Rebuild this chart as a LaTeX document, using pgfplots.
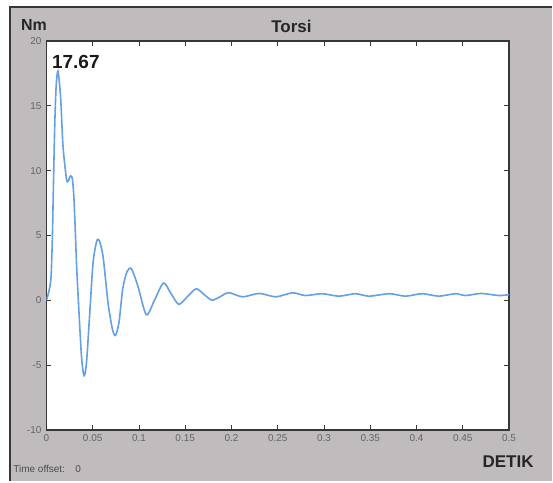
\documentclass[border=0pt]{standalone}
\usepackage{fontspec}
\setmainfont{Liberation Sans}
\usepackage{pgfplots}
\pgfplotsset{compat=1.18}
\definecolor{panelgrey}{RGB}{192,188,190}
\definecolor{framedark}{RGB}{55,55,55}
\definecolor{torsiblue}{RGB}{100,160,228}
\definecolor{ticktext}{RGB}{100,100,100}

\pgfplotstableread{
t      nm
0.0000  0.0
0.0030  0.8
0.0050  1.8
0.0065  5.0
0.0075  8.6
0.0090 13.5
0.0105 16.5
0.0125 17.67
0.0153 15.7
0.0175 12.4
0.0189 11.1
0.0218  9.3
0.0235  9.2
0.0261  9.6
0.0282  9.3
0.0300  7.5
0.0325  2.9
0.0343  0.3
0.0379 -4.3
0.0407 -5.8
0.0433 -4.8
0.0469 -0.9
0.0504  2.9
0.0541  4.5
0.0569  4.65
0.0612  3.4
0.0666 -0.2
0.0713 -2.2
0.0746 -2.7
0.0784 -1.7
0.0825  0.9
0.0870  2.2
0.0918  2.45
0.0989  1.1
0.1080 -1.1
0.1173  0.1
0.1266  1.35
0.1349  0.5
0.1431 -0.3
0.1525  0.3
0.1619  0.9
0.1705  0.45
0.1791  0.02
0.1880  0.3
0.1970  0.6
0.2120  0.28
0.2300  0.54
0.2480  0.28
0.2660  0.59
0.2800  0.38
0.2980  0.52
0.3160  0.33
0.3340  0.52
0.3486  0.33
0.3707  0.52
0.3880  0.33
0.4060  0.52
0.4240  0.33
0.4420  0.52
0.4530  0.38
0.4700  0.54
0.4890  0.38
0.5000  0.45
}\torsidata

\begin{document}
\begin{tikzpicture}[x=0.5pt,y=0.5pt]
% page and grey panel
\fill[white] (0,0) rectangle (553,482);
\fill[panelgrey] (10,0) rectangle (553,475);
\draw[framedark, line width=1pt] (10,0) -- (10,475) -- (553,475);

\begin{axis}[
  at={(23.25pt,25.5pt)}, anchor=south west,
  scale only axis,
  width=231.75pt, height=195pt,
  xmin=0, xmax=0.5, ymin=-10, ymax=20,
  xtick={0,0.05,...,0.5}, ytick={-10,-5,0,5,10,15,20},
  xticklabels={0,0.05,0.1,0.15,0.2,0.25,0.3,0.35,0.4,0.45,0.5},
  axis background/.style={fill=white},
  axis line style={framedark, line width=0.8pt},
  tick style={framedark, line width=0.4pt},
  tick align=inside, major tick length=2.5pt,
  ticks=both,
  tick label style={font=\fontsize{5}{6}\selectfont, text=ticktext},
  /pgf/number format/assume math mode=true,
  xticklabel style={yshift=1.5pt},
  yticklabel style={xshift=1pt},
]
\addplot[torsiblue, line width=0.8pt, smooth, tension=0.45] table[x=t, y=nm] {\torsidata};
\end{axis}

% texts
\node[font=\fontsize{8.5}{10}\selectfont\bfseries, text=black!85] at (292,456) {Torsi};
\node[font=\fontsize{8}{10}\selectfont\bfseries, text=black!85] at (34,457) {Nm};
\node[font=\fontsize{9.5}{12}\selectfont\bfseries, text=black!90] at (76,420) {17.67};
\node[font=\fontsize{8.5}{11}\selectfont\bfseries, text=black!85] at (509,19) {DETIK};
\node[font=\fontsize{5}{6}\selectfont, text=black!70, anchor=west, inner sep=0pt] at (13,12) {Time offset:};
\node[font=\fontsize{5}{6}\selectfont, text=black!70, anchor=west, inner sep=0pt] at (75,12) {0};
\end{tikzpicture}
\end{document}
